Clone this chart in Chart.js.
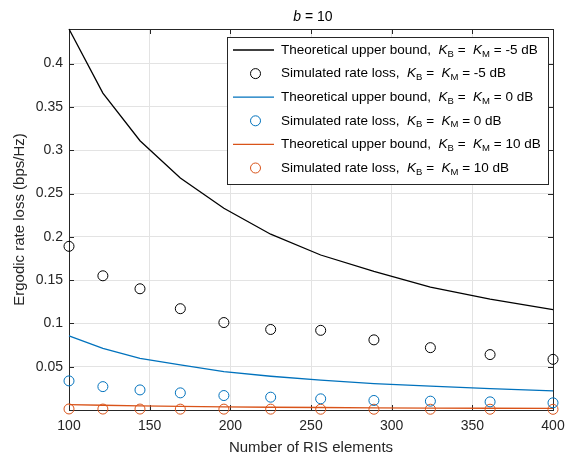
<!DOCTYPE html>
<html>
<head>
<meta charset="utf-8">
<script src="https://cdn.jsdelivr.net/npm/chart.js@4/dist/chart.umd.min.js"></script>
<style>
  html, body { margin: 0; padding: 0; background: #fff; }
  #wrap { width: 565px; height: 456px; }
</style>
</head>
<body>
<div id="wrap"><canvas id="rateChart"></canvas></div>
<script>
// data
const N_ELEMENTS = [100, 121, 144, 169, 196, 225, 256, 289, 324, 361, 400];
const BOUND_M5 = [0.44, 0.366, 0.311, 0.268, 0.233, 0.203, 0.179, 0.160, 0.142, 0.128, 0.116];
const SIM_M5   = [0.189, 0.155, 0.140, 0.117, 0.101, 0.093, 0.092, 0.081, 0.072, 0.064, 0.0585];
const BOUND_0  = [0.0857, 0.0712, 0.0597, 0.052, 0.0443, 0.039, 0.0344, 0.0305, 0.0275, 0.0247, 0.0221];
const SIM_0    = [0.0336, 0.027, 0.0232, 0.0198, 0.0167, 0.0148, 0.0129, 0.011, 0.0102, 0.0094, 0.0083];
const BOUND_10 = [0.0063, 0.0055, 0.0048, 0.0042, 0.0037, 0.0032, 0.0029, 0.0025, 0.0022, 0.002, 0.0018];
const SIM_10   = [0.0012, 0.0011, 0.0011, 0.001, 0.001, 0.001, 0.0009, 0.0009, 0.0009, 0.0009, 0.0008];

const X_TICKS = [100, 150, 200, 250, 300, 350, 400];
const Y_TICKS = [0.05, 0.1, 0.15, 0.2, 0.25, 0.3, 0.35, 0.4];
const K_VALUES = ['-5', '-5', '0', '0', '10', '10'];
const SERIES_NAMES = ['Theoretical upper bound', 'Simulated rate loss'];

const FONT = '"Liberation Sans", Arial, Helvetica, sans-serif';
const AX = '#262626';

function pts(arr) {
    return N_ELEMENTS.map((n, i) => ({ x: n, y: arr[i] }));
}

function lineSet(arr, color) {
    return { type: 'line', data: pts(arr), borderColor: color, borderWidth: 1.3,
             pointRadius: 0, fill: false, tension: 0, clip: false };
}
function dotSet(arr, color) {
    return { type: 'scatter', data: pts(arr), borderColor: color, backgroundColor: 'rgba(0,0,0,0)',
             borderWidth: 1, pointRadius: 5, pointHoverRadius: 5, showLine: false, clip: false };
}

const datasets = [
    lineSet(BOUND_M5, '#000000'),
    dotSet(SIM_M5, '#000000'),
    lineSet(BOUND_0, '#0072BD'),
    dotSet(SIM_0, '#0072BD'),
    lineSet(BOUND_10, '#D95319'),
    dotSet(SIM_10, '#D95319')
];

// frame, inward ticks, title and legend in MATLAB style
const decorPlugin = {
    id: 'decor',
    beforeDatasetsDraw(chart) {
        const ctx = chart.ctx;
        const a = chart.chartArea;
        const xs = chart.scales.x, ys = chart.scales.y;
        ctx.save();
        ctx.strokeStyle = AX;
        ctx.lineWidth = 1;
        ctx.beginPath();
        X_TICKS.forEach(v => {
            const px = Math.round(xs.getPixelForValue(v)) + 0.5;
            ctx.moveTo(px, a.bottom); ctx.lineTo(px, a.bottom - 5);
            ctx.moveTo(px, a.top); ctx.lineTo(px, a.top + 5);
        });
        Y_TICKS.forEach(v => {
            const py = Math.round(ys.getPixelForValue(v)) + 0.5;
            ctx.moveTo(a.left, py); ctx.lineTo(a.left + 5, py);
            ctx.moveTo(a.right, py); ctx.lineTo(a.right - 5, py);
        });
        ctx.stroke();
        ctx.strokeRect(Math.round(a.left) + 0.5, Math.round(a.top) + 0.5,
                       Math.round(a.right - a.left), Math.round(a.bottom - a.top));
        ctx.restore();
    },
    afterDraw(chart) {
        const ctx = chart.ctx;
        const a = chart.chartArea;
        ctx.save();
        // title
        ctx.fillStyle = '#000';
        ctx.textBaseline = 'middle';
        ctx.font = 'italic 14px ' + FONT;
        const tb = ctx.measureText('b').width;
        ctx.font = '14px ' + FONT;
        const tr = ctx.measureText(' = 10').width;
        const tx = (a.left + a.right) / 2 + 2 - (tb + tr) / 2;
        ctx.font = 'italic 14px ' + FONT;
        ctx.fillText('b', tx, 17);
        ctx.font = '14px ' + FONT;
        ctx.fillText(' = 10', tx + tb, 17);

        // legend
        const lx = 227.5, ly = 37.5, lw = 321, lh = 147;
        ctx.fillStyle = '#fff';
        ctx.fillRect(lx, ly, lw, lh);
        ctx.strokeStyle = AX;
        ctx.lineWidth = 1;
        ctx.strokeRect(lx, ly, lw, lh);
        datasets.forEach((ds, i) => {
            const cy = 50 + i * 23.6;
            ctx.strokeStyle = ds.borderColor;
            if (ds.type === 'line') {
                ctx.lineWidth = 1.3;
                ctx.beginPath();
                ctx.moveTo(233, cy); ctx.lineTo(274, cy);
                ctx.stroke();
            } else {
                ctx.lineWidth = 1;
                ctx.beginPath();
                ctx.arc(255.5, cy, 5, 0, Math.PI * 2);
                ctx.stroke();
            }
            let x = 281;
            const piece = (txt, font, dy) => {
                ctx.font = font;
                ctx.fillStyle = '#000';
                ctx.fillText(txt, x, cy + dy);
                x += ctx.measureText(txt).width;
            };
            piece(SERIES_NAMES[i % 2] + ',  ', '13.5px ' + FONT, 0);
            piece('K', 'italic 13.5px ' + FONT, 0);
            piece('B', '9.5px ' + FONT, 4);
            piece(' =  ', '13.5px ' + FONT, 0);
            piece('K', 'italic 13.5px ' + FONT, 0);
            piece('M', '9.5px ' + FONT, 4);
            piece(' = ' + K_VALUES[i] + ' dB', '13.5px ' + FONT, 0);
        });
        ctx.restore();
    }
};

new Chart(document.getElementById('rateChart'), {
    data: { datasets: datasets },
    options: {
        responsive: true,
        maintainAspectRatio: false,
        animation: false,
        layout: { padding: { top: 29, right: 12, left: 0, bottom: 0 } },
        plugins: {
            legend: { display: false },
            title: { display: false },
            tooltip: { enabled: false }
        },
        scales: {
            x: {
                type: 'linear',
                min: 100, max: 400,
                afterBuildTicks: s => { s.ticks = X_TICKS.map(v => ({ value: v })); },
                afterFit: s => { s.height = 46; s.paddingLeft = 0; s.paddingRight = 0; },
                grid: { color: '#e3e3e3', drawTicks: false },
                border: { display: false },
                ticks: { color: AX, padding: 8, font: { family: FONT, size: 14 },
                         maxRotation: 0, callback: v => String(v) },
                title: { display: true, text: 'Number of RIS elements', color: AX,
                         font: { family: FONT, size: 15, lineHeight: 1 },
                         padding: { top: 0, bottom: 1 } }
            },
            y: {
                type: 'linear',
                min: 0, max: 0.44,
                afterBuildTicks: s => { s.ticks = Y_TICKS.map(v => ({ value: v })); },
                afterFit: s => { s.width = 69; s.paddingTop = 0; s.paddingBottom = 0; },
                grid: { color: '#e3e3e3', drawTicks: false },
                border: { display: false },
                ticks: { color: AX, padding: 6, font: { family: FONT, size: 14 },
                         callback: v => String(v) },
                title: { display: true, text: 'Ergodic rate loss (bps/Hz)', color: AX,
                         font: { family: FONT, size: 15, lineHeight: 1 },
                         padding: { top: 12, bottom: 0 } }
            }
        }
    },
    plugins: [decorPlugin]
});
</script>
</body>
</html>
